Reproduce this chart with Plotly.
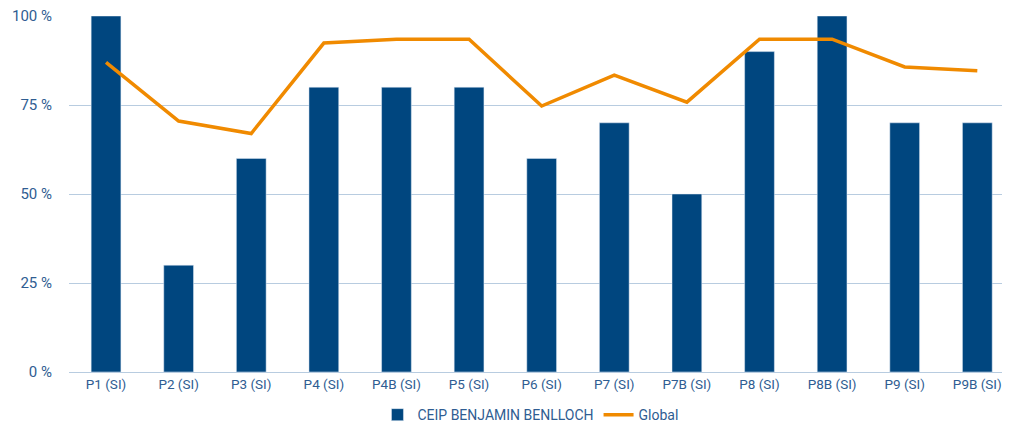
import plotly.graph_objects as go

categories = ["P1 (SI)", "P2 (SI)", "P3 (SI)", "P4 (SI)", "P4B (SI)", "P5 (SI)", "P6 (SI)",
              "P7 (SI)", "P7B (SI)", "P8 (SI)", "P8B (SI)", "P9 (SI)", "P9B (SI)"]
school = [100, 30, 60, 80, 80, 80, 60, 70, 50, 90, 100, 70, 70]
global_pct = [87, 70.5, 67, 92.4, 93.5, 93.5, 74.7, 83.4, 75.8, 93.5, 93.5, 85.7, 84.6]
y_ticks = [0, 25, 50, 75, 100]
y_labels = ["0 %", "25 %", "50 %", "75 %", "100 %"]

blue = "#00467f"
orange = "#f08a00"
text_col = "#2f5d92"

fig = go.Figure()
fig.add_trace(go.Bar(x=categories, y=school, name="CEIP BENJAMIN BENLLOCH",
                     marker_color=blue))
fig.add_trace(go.Scatter(x=categories, y=global_pct, name="Global", mode="lines",
                         line={"color": orange, "width": 3.5}))

# page body has an 8px margin, so the figure is a bit smaller than the window
fig.update_layout(
    plot_bgcolor="white", paper_bgcolor="white",
    width=994, height=418, autosize=False,
    margin=dict(l=61, r=0, t=8, b=54, autoexpand=False),
    bargap=0.59,
    font=dict(family="Roboto", size=14, color=text_col),
    legend=dict(orientation="h", x=0.4946, xanchor="center", y=-0.076, yanchor="top",
                font=dict(size=14, color=text_col)),
    showlegend=True,
)
fig.update_xaxes(range=[-0.51, 12.34], showgrid=False, showline=True, automargin=False,
                 linecolor="#b8cce0", linewidth=1, ticks="", tickfont=dict(size=13.5))
fig.update_yaxes(range=[0, 100], tickvals=y_ticks, ticktext=y_labels, automargin=False,
                 showgrid=True, gridcolor="#b8cce0", gridwidth=1, zeroline=False,
                 ticklabelstandoff=16, ticklabeloverflow="allow", tickfont=dict(size=15))

fig.write_html("out.html")
